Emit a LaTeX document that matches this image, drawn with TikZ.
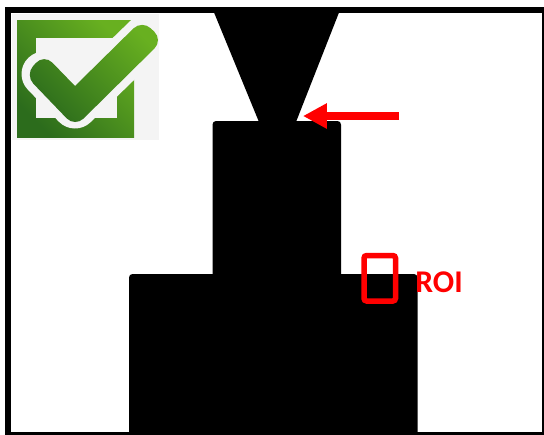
\documentclass[tikz,border=0pt]{standalone}
\usepackage{fontspec}
\setmainfont{Carlito}
\usepackage{xcolor}
\usetikzlibrary{positioning, arrows.meta}
\definecolor{ChkDark}{RGB}{44,108,28}
\definecolor{ChkLight}{RGB}{104,176,32}
\definecolor{ChkBack}{RGB}{244,244,244}
\definecolor{RoiRed}{RGB}{255,0,0}

\begin{document}
\begin{tikzpicture}[
            x=0.02cm, y=-0.02cm,
            solid/.style={fill=black, draw=none, rounded corners=2pt},
            arr/.style={-{Triangle[length=0.48cm, width=0.48cm]}, draw=RoiRed, line width=0.16cm},
            roibox/.style={draw=RoiRed, line width=0.11cm, rounded corners=1.5pt},
            lbl/.style={font=\fontsize{18}{20}\selectfont\bfseries, text=RoiRed, inner sep=0pt},
            chk/.style={left color=ChkDark, right color=ChkLight, shading angle=135}
          ]
          \useasboundingbox (0,0) rectangle (544,434);
          % specimen
          \fill[black] (213,10) -- (340,10) -- (296,122) -- (259,122) -- cycle;
          \fill[solid] (212.5,280) -- (212.5,121) -- (341,121) -- (341,280) -- cycle;
          \fill[solid] (129,440) -- (129,274) -- (417.5,274) -- (417.5,440) -- cycle;
          % frame
          \draw[line width=0.13cm] (8.25,10) rectangle (545.25,435.25);
          % check mark
          \fill[ChkBack] (12,14) rectangle (159,140);
          \shade[chk] (17,20) rectangle (134,137);
          \fill[ChkBack] (36,38) rectangle (117,118);
          \begin{scope}
            \clip (12,14) rectangle (159,140);
            \draw[ChkBack, line width=0.9cm, line cap=round, line join=round]
                  (44,74) -- (75,106) -- (146,37);
          \end{scope}
          \shade[chk, rounded corners=0.24cm]
                (25,75) -- (44,54) [sharp corners] -- (75,86) [rounded corners=0.24cm]
                -- (142,20) -- (163,40) -- (75,127) -- cycle;
          % region of interest
          \node[roibox, minimum width=0.63cm, minimum height=0.91cm, inner sep=0pt] (roi) at (379.75,278.25) {};
          \node[lbl, anchor=west] (roilbl) at (415,282) {ROI};
          % pointer
          \coordinate (tail) at (399,116);
          \coordinate (tip) at (303,116);
          \draw[arr] (tail) -- (tip);
        \end{tikzpicture}
\end{document}
